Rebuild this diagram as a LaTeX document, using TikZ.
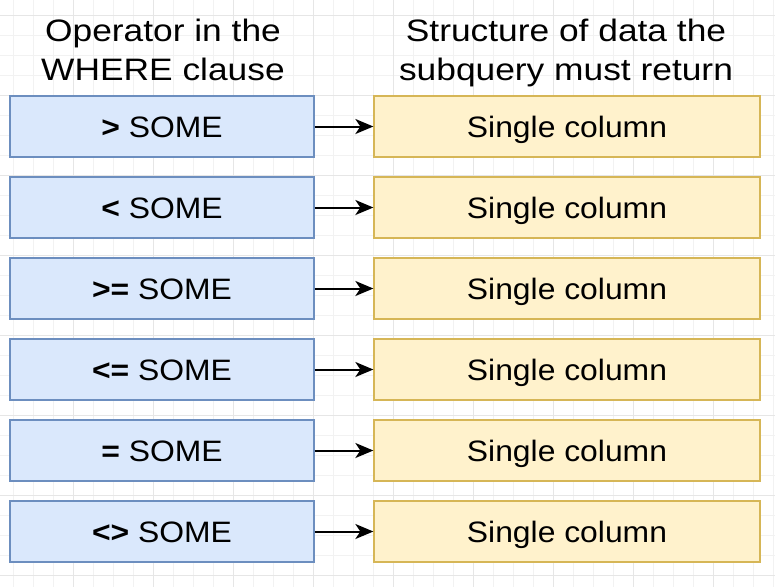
\documentclass[tikz,border=0pt]{standalone}
\usepackage{fontspec}
\setmainfont{Liberation Sans}[FakeStretch=1.08]
\newfontfamily\titlefont{Liberation Sans}[FakeStretch=1.14]
\usetikzlibrary{arrows.meta}
\definecolor{bluefill}{HTML}{DAE8FC}
\definecolor{bluedraw}{HTML}{6C8EBF}
\definecolor{yelfill}{HTML}{FFF2CC}
\definecolor{yeldraw}{HTML}{D6B656}
\definecolor{gridminor}{HTML}{F2F2F2}
\definecolor{gridmajor}{HTML}{E6E6E6}
\tikzset{
  opbox/.style={draw=bluedraw, fill=bluefill, line width=1.3pt, minimum width=304pt, minimum height=61pt,
    inner sep=0pt, text height=21pt, text depth=0pt, font=\fontsize{29.5}{34}\selectfont},
  resbox/.style={draw=yeldraw, fill=yelfill, line width=1.3pt, minimum width=386pt, minimum height=61pt,
    inner sep=0pt, text height=21pt, text depth=0pt, font=\fontsize{29.5}{34}\selectfont},
  titletext/.style={anchor=base, inner sep=0pt, font=\titlefont\fontsize{31}{38}\selectfont},
  conn/.style={line width=2pt, -{Stealth[length=18pt, width=15pt, inset=5pt]}}
}
\begin{document}
\begin{tikzpicture}[x=1pt, y=-1pt]
\useasboundingbox (0,0) rectangle (775,587);
\fill[white] (0,0) rectangle (775,587);
% grid
\foreach \gx in {13,33,...,773} \draw[gridminor, line width=0.8pt] (\gx,0) -- (\gx,587);
\foreach \gy in {15,35,...,585} \draw[gridminor, line width=0.8pt] (0,\gy) -- (775,\gy);
\foreach \gx in {73,153,...,773} \draw[gridmajor, line width=0.8pt] (\gx,0) -- (\gx,587);
\foreach \gy in {15,95,...,585} \draw[gridmajor, line width=0.8pt] (0,\gy) -- (775,\gy);
% titles
\node[titletext] (t1a) at (163,41) {Operator in the};
\node[titletext] (t1b) at (163,80) {WHERE clause};
\node[titletext] (t2a) at (566,41) {Structure of data the};
\node[titletext] (t2b) at (566,80) {subquery must return};
% rows
\foreach \i/\op in {0/{>}, 1/{<}, 2/{>=}, 3/{<=}, 4/{=}, 5/{<>}} {
  \node[opbox] (op\i) at (162,{126.5+81*\i}) {\textbf{\op} SOME};
  \node[resbox] (res\i) at (567,{126.5+81*\i}) {Single column};
  \draw[conn] (op\i.east) -- (res\i.west);
}
\end{tikzpicture}
\end{document}
